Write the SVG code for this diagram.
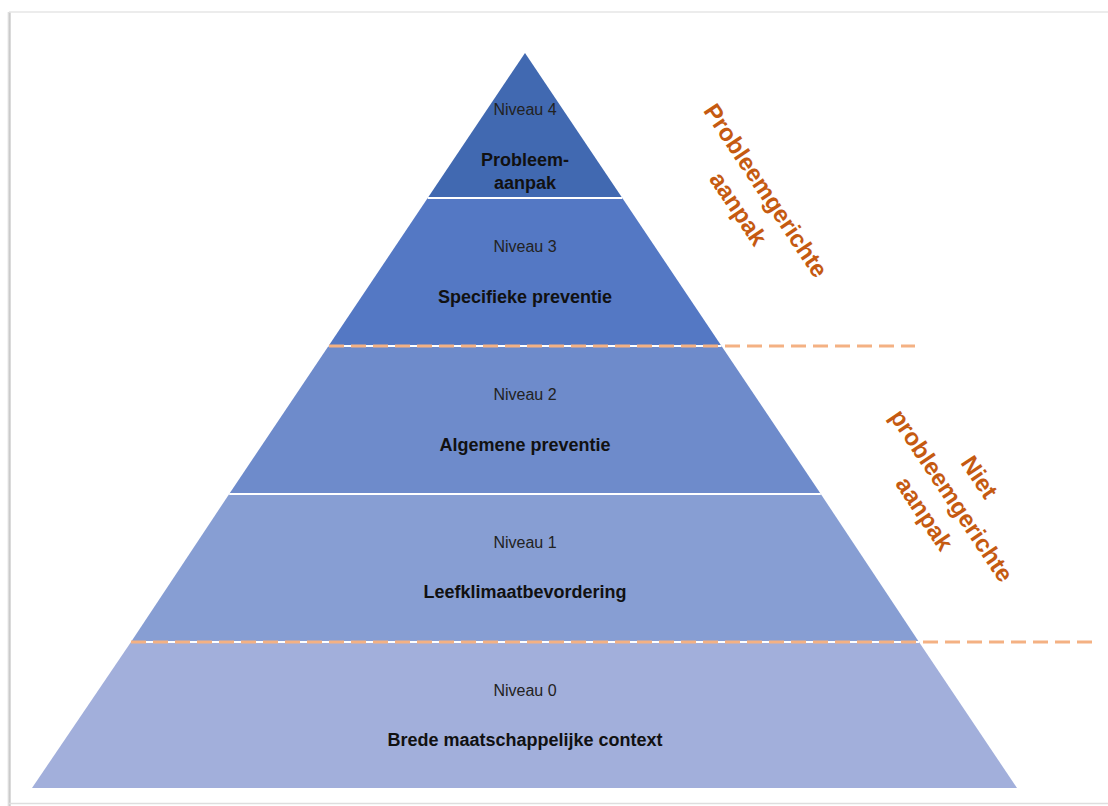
<svg xmlns="http://www.w3.org/2000/svg" width="1108" height="806" viewBox="0 0 1108 806">
<defs>
<linearGradient id="shadowL" x1="0" y1="0" x2="1" y2="0">
<stop offset="0" stop-color="#ffffff"/>
<stop offset="0.6" stop-color="#c9c9c9"/>
<stop offset="1" stop-color="#e2e2e2"/>
</linearGradient>
</defs>
<style>
.lvl{font-family:"Liberation Sans",Arial,sans-serif;font-size:16px;fill:#222222;text-anchor:middle}
.name{font-family:"Liberation Sans",Arial,sans-serif;font-size:18px;font-weight:bold;fill:#111111;text-anchor:middle}
.side{font-family:"Liberation Sans",Arial,sans-serif;font-size:24px;font-weight:bold;fill:#C55A11;text-anchor:middle}
.sep{stroke:#ffffff;stroke-width:2}
.dash{stroke:#F4B183;stroke-width:3;stroke-dasharray:15 7;fill:none}
</style>
<rect width="1108" height="806" fill="#ffffff"/>
<g id="frame">
<rect x="7" y="12" width="4" height="794" fill="url(#shadowL)"/>
<line x1="9" y1="12" x2="1108" y2="12" stroke="#e6e6e6" stroke-width="1.5"/>
<line x1="9" y1="803.5" x2="1108" y2="803.5" stroke="#dedede" stroke-width="1.5"/>
</g>
<g id="level4">
<polygon points="525,53 427.7,198 622.3,198" fill="#4169B1"/>
<text class="lvl" x="525" y="115">Niveau 4</text>
<text class="name" x="525" y="166">Probleem-</text>
<text class="name" x="525" y="189">aanpak</text>
</g>
<g id="level3">
<polygon points="427.7,198 622.3,198 721.5,346 328.5,346" fill="#5478C4"/>
<text class="lvl" x="525" y="252">Niveau 3</text>
<text class="name" x="525" y="303">Specifieke preventie</text>
</g>
<g id="level2">
<polygon points="328.5,346 721.5,346 820.8,494 229.2,494" fill="#6E8BCB"/>
<text class="lvl" x="525" y="400">Niveau 2</text>
<text class="name" x="525" y="451">Algemene preventie</text>
</g>
<g id="level1">
<polygon points="229.2,494 820.8,494 919,642 131,642" fill="#879ED3"/>
<text class="lvl" x="525" y="548">Niveau 1</text>
<text class="name" x="525" y="598">Leefklimaatbevordering</text>
</g>
<g id="level0">
<polygon points="131,642 919,642 1017,788 32,788" fill="#A2AFDB"/>
<text class="lvl" x="525" y="696">Niveau 0</text>
<text class="name" x="525" y="746">Brede maatschappelijke context</text>
</g>
<g id="connectors">
<line class="sep" x1="427.7" y1="198" x2="622.3" y2="198"/>
<line class="sep" x1="328.5" y1="346" x2="721.5" y2="346"/>
<line class="sep" x1="229.2" y1="494" x2="820.8" y2="494"/>
<line class="sep" x1="131" y1="642" x2="919" y2="642"/>
<line class="dash" x1="329" y1="346" x2="915" y2="346"/>
<line class="dash" x1="131" y1="642" x2="1095" y2="642"/>
</g>
<g id="label-probleemgericht">
<g transform="translate(751.5,200) rotate(56.3)">
<text class="side" x="0" y="-9">Probleemgerichte</text>
<text class="side" x="0" y="24">aanpak</text>
</g>
</g>
<g id="label-niet-probleemgericht">
<g transform="translate(951,496) rotate(56.3)">
<text class="side" x="0" y="-26">Niet</text>
<text class="side" x="0" y="7.5">probleemgerichte</text>
<text class="side" x="0" y="40">aanpak</text>
</g>
</g>
</svg>
